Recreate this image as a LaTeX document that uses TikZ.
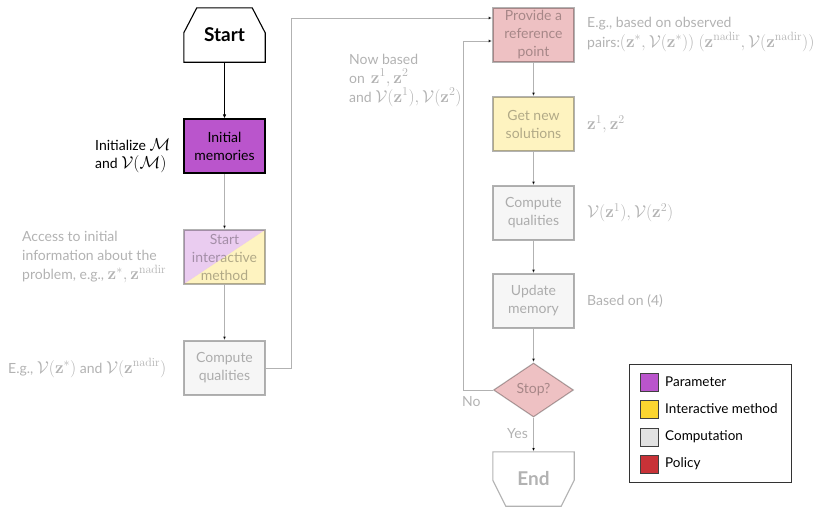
\documentclass[tikz,border=0pt]{standalone}
\usepackage[no-math]{fontspec}
\setmainfont{Lato}
\usetikzlibrary{arrows.meta,shapes.geometric}
\definecolor{cpurple}{RGB}{186,85,204}
\definecolor{cyellow}{RGB}{252,214,48}
\definecolor{cgray}{RGB}{226,226,226}
\definecolor{cred}{RGB}{200,50,55}
\newcommand{\mth}[1]{{\fontsize{16.5}{18}\selectfont$#1$}}
\begin{document}
\begin{tikzpicture}[x=1pt,y=-1pt,
  txt/.style={font=\fontsize{14}{18}\selectfont},
  box/.style={txt, draw, line width=1.1pt, minimum width=81pt, minimum height=54pt, align=center, inner sep=1pt},
  faded/.style={draw opacity=0.3, fill opacity=0.3, text opacity=0.3},
  fline/.style={draw opacity=0.3, line width=0.9pt},
  arr/.style={-{Latex[length=4pt,width=3.5pt]}},
  lbl/.style={txt, align=left, inner sep=0pt, anchor=west},
  flbl/.style={lbl, text opacity=0.3},
  swatch/.style={draw=black!75, line width=0.8pt, minimum width=18pt, minimum height=18pt, inner sep=0pt},
  leg/.style={font=\fontsize{13.5}{16}\selectfont, inner sep=0pt, anchor=west}
]
\useasboundingbox (0,0) rectangle (816,506);

% Start
\node[font=\bfseries\fontsize{19}{22}\selectfont, minimum width=81pt, minimum height=54pt, inner sep=0pt] (start) at (224.5,35) {Start};
\draw[line width=1.1pt] ([xshift=13pt]start.north west) -- ([xshift=-13pt]start.north east)
  -- ([yshift=-25pt]start.north east) -- (start.south east) -- (start.south west)
  -- ([yshift=-25pt]start.north west) -- cycle;

% Left column
\node[box, fill=cpurple] (mem) at (224.5,146) {Initial\\memories};
\node[box, faded, path picture={
    \fill[cpurple, fill opacity=0.3] (path picture bounding box.south west) -- (path picture bounding box.north west) -- (path picture bounding box.north east) -- cycle;
    \fill[cyellow, fill opacity=0.3] (path picture bounding box.south west) -- (path picture bounding box.south east) -- (path picture bounding box.north east) -- cycle;
  }] (sim) at (224.5,257) {Start\\interactive\\method};
\node[box, faded, fill=cgray] (cq1) at (224.5,368) {Compute\\qualities};

% Right column
\node[box, faded, fill=cred] (ref) at (533.5,35) {Provide a\\reference\\point};
\node[box, faded, fill=cyellow] (gns) at (533.5,124) {Get new\\solutions};
\node[box, faded, fill=cgray] (cq2) at (533.5,213) {Compute\\qualities};
\node[box, faded, fill=cgray] (upd) at (533.5,301) {Update\\memory};
\node[txt, draw, faded, fill=cred, line width=1.1pt, diamond, aspect=1.5, inner sep=0pt, minimum width=80pt, minimum height=54pt] (stop) at (533.5,390) {Stop?};
\node[font=\bfseries\fontsize{19}{22}\selectfont, text opacity=0.3, minimum width=81pt, minimum height=54pt, inner sep=0pt] (end) at (533.5,479) {End};
\draw[line width=1.1pt, draw opacity=0.3] (end.north west) -- (end.north east)
  -- ([yshift=26pt]end.south east) -- ([xshift=-13pt]end.south east) -- ([xshift=13pt]end.south west)
  -- ([yshift=26pt]end.south west) -- cycle;

% Connectors
\draw[arr, line width=0.9pt] (start.south) -- (mem.north);
\draw[arr, fline] (mem.south) -- (sim.north);
\draw[arr, fline] (sim.south) -- (cq1.north);
\coordinate (topc) at (291,18);
\draw[arr, fline] (cq1.east) -| (topc) -- (ref.west |- topc);
\draw[arr, fline] (ref.south) -- (gns.north);
\draw[arr, fline] (gns.south) -- (cq2.north);
\draw[arr, fline] (cq2.south) -- (upd.north);
\draw[arr, fline] (upd.south) -- (stop.north);
\draw[arr, fline] (stop.south) -- (end.north);
\coordinate (noc) at (463,41);
\draw[arr, fline] (stop.west) -| (noc) -- (ref.west |- noc);
\node[flbl] (no) at (462,402) {No};
\node[flbl] (yes) at (507,434) {Yes};

% Labels
\node[lbl] (l1) at (95,156) {Initialize \mth{\mathcal{M}}\\and \mth{\mathcal{V}(\mathcal{M})}};
\node[flbl, font=\fontsize{14}{19}\selectfont] (l2) at (22,257) {Access to initial\\information about the\\problem, e.g., \mth{\mathbf{z}^*, \mathbf{z}^{\mathrm{nadir}}}};
\node[flbl] (l3) at (8,368) {E.g., \mth{\mathcal{V}(\mathbf{z}^*)} and \mth{\mathcal{V}(\mathbf{z}^{\mathrm{nadir}})}};
\node[flbl, font=\fontsize{14}{19}\selectfont] (l4) at (349,80) {Now based\\on\, \mth{\mathbf{z}^1, \mathbf{z}^2}\\and \mth{\mathcal{V}(\mathbf{z}^1), \mathcal{V}(\mathbf{z}^2)}};
\node[flbl, font=\fontsize{14}{20}\selectfont] (l5) at (587,34) {E.g., based on observed\\pairs:\mth{(\mathbf{z}^*, \mathcal{V}(\mathbf{z}^*))\ (\mathbf{z}^{\mathrm{nadir}}, \mathcal{V}(\mathbf{z}^{\mathrm{nadir}}))}};
\node[flbl] (l6) at (587,124) {\mth{\mathbf{z}^1, \mathbf{z}^2}};
\node[flbl] (l7) at (587,213) {\mth{\mathcal{V}(\mathbf{z}^1), \mathcal{V}(\mathbf{z}^2)}};
\node[flbl] (l8) at (587,301) {Based on (4)};

% Legend
\node[draw=black!80, line width=0.8pt, minimum width=162pt, minimum height=118pt, inner sep=0pt] (legend) at (710,423) {};
\node[swatch, fill=cpurple] (s1) at (649,382) {};
\node[swatch, fill=cyellow] (s2) at (649,409) {};
\node[swatch, fill=cgray] (s3) at (649,437) {};
\node[swatch, fill=cred] (s4) at (649,464) {};
\node[leg] (t1) at (665,382) {Parameter};
\node[leg] (t2) at (665,409) {Interactive method};
\node[leg] (t3) at (665,437) {Computation};
\node[leg] (t4) at (665,464) {Policy};
\end{tikzpicture}
\end{document}
